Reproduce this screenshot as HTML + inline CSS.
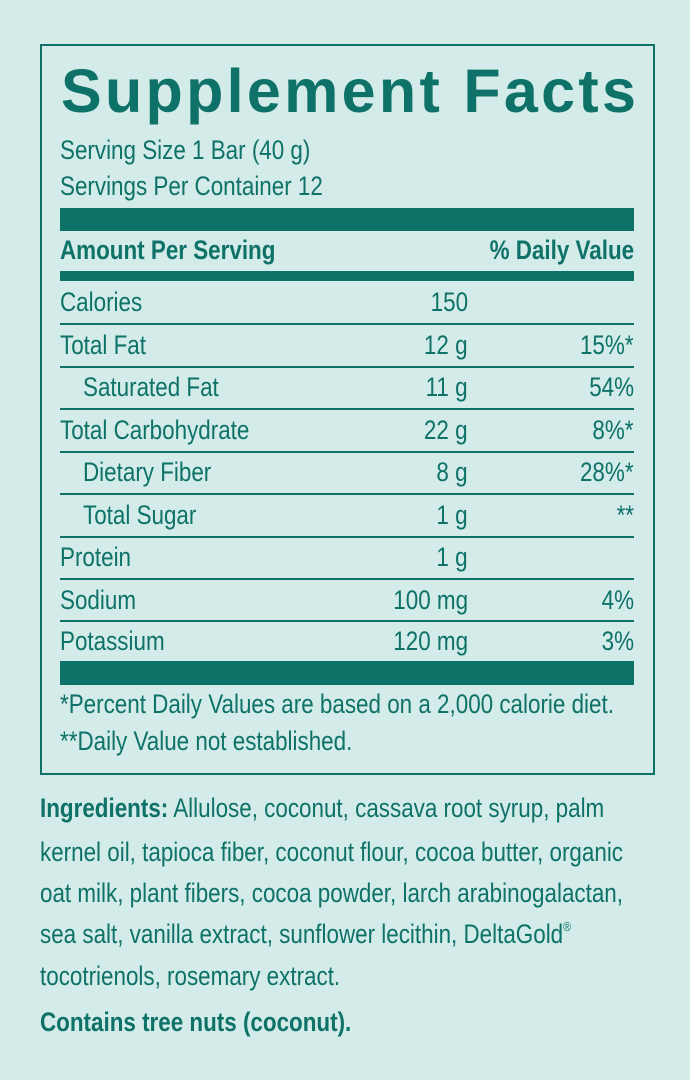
<!DOCTYPE html>
<html><head><meta charset="utf-8"><style>
body{margin:0;width:690px;height:1080px;background:#d3ebe9;position:relative;overflow:hidden;font-family:"Liberation Sans",sans-serif;color:#0e7268}
.t{position:absolute;white-space:nowrap;font-size:27px;line-height:30px;transform:scaleX(0.83);transform-origin:left center}
.r{transform-origin:right center;text-align:right}
.b{font-weight:bold}
.bar{position:absolute;left:60px;width:574px;background:#0e7268}
.ln{position:absolute;left:60px;width:574px;height:1.5px;background:#0e7268}
sup{font-size:13px;line-height:0;vertical-align:12px}
</style></head><body>
<div style="position:absolute;left:40px;top:44px;width:611px;height:727px;border:2px solid #0e7268"></div>
<div style="position:absolute;left:61px;top:58px;font-size:61px;font-weight:bold;line-height:66px;letter-spacing:3.3px;color:#0e7268;white-space:nowrap">Supplement Facts</div>
<div class="t" style="left:60px;top:135px">Serving Size 1 Bar (40 g)</div>
<div class="t" style="left:60px;top:171px">Servings Per Container 12</div>
<div class="bar" style="top:208px;height:23px"></div>
<div class="t b" style="left:60px;top:235px">Amount Per Serving</div>
<div class="t b r" style="right:56px;top:235px">% Daily Value</div>
<div class="bar" style="top:271px;height:10px"></div>

<div class="t" style="left:60px;top:287px">Calories</div><div class="t r" style="right:222px;top:287px">150</div>
<div class="ln" style="top:323px"></div>
<div class="t" style="left:60px;top:330px">Total Fat</div><div class="t r" style="right:222px;top:330px">12 g</div><div class="t r" style="right:56px;top:330px">15%*</div>
<div class="ln" style="top:366px"></div>
<div class="t" style="left:83px;top:372px">Saturated Fat</div><div class="t r" style="right:222px;top:372px">11 g</div><div class="t r" style="right:56px;top:372px">54%</div>
<div class="ln" style="top:408px"></div>
<div class="t" style="left:60px;top:415px">Total Carbohydrate</div><div class="t r" style="right:222px;top:415px">22 g</div><div class="t r" style="right:56px;top:415px">8%*</div>
<div class="ln" style="top:451px"></div>
<div class="t" style="left:83px;top:457px">Dietary Fiber</div><div class="t r" style="right:222px;top:457px">8 g</div><div class="t r" style="right:56px;top:457px">28%*</div>
<div class="ln" style="top:493px"></div>
<div class="t" style="left:83px;top:500px">Total Sugar</div><div class="t r" style="right:222px;top:500px">1 g</div><div class="t r" style="right:56px;top:500px">**</div>
<div class="ln" style="top:536px"></div>
<div class="t" style="left:60px;top:542px">Protein</div><div class="t r" style="right:222px;top:542px">1 g</div>
<div class="ln" style="top:578px"></div>
<div class="t" style="left:60px;top:585px">Sodium</div><div class="t r" style="right:222px;top:585px">100 mg</div><div class="t r" style="right:56px;top:585px">4%</div>
<div class="ln" style="top:620px"></div>
<div class="t" style="left:60px;top:626px">Potassium</div><div class="t r" style="right:222px;top:626px">120 mg</div><div class="t r" style="right:56px;top:626px">3%</div>
<div class="bar" style="top:661px;height:24px"></div>
<div class="t" style="left:60px;top:689px">*Percent Daily Values are based on a 2,000 calorie diet.</div>
<div class="t" style="left:60px;top:726px">**Daily Value not established.</div>

<div class="t" style="left:40px;top:793px"><b>Ingredients:</b> Allulose, coconut, cassava root syrup, palm</div>
<div class="t" style="left:40px;top:837px">kernel oil, tapioca fiber, coconut flour, cocoa butter, organic</div>
<div class="t" style="left:40px;top:878px">oat milk, plant fibers, cocoa powder, larch arabinogalactan,</div>
<div class="t" style="left:40px;top:919px">sea salt, vanilla extract, sunflower lecithin, DeltaGold<sup>®</sup></div>
<div class="t" style="left:40px;top:961px">tocotrienols, rosemary extract.</div>
<div class="t b" style="left:40px;top:1007px">Contains tree nuts (coconut).</div>
</body></html>
